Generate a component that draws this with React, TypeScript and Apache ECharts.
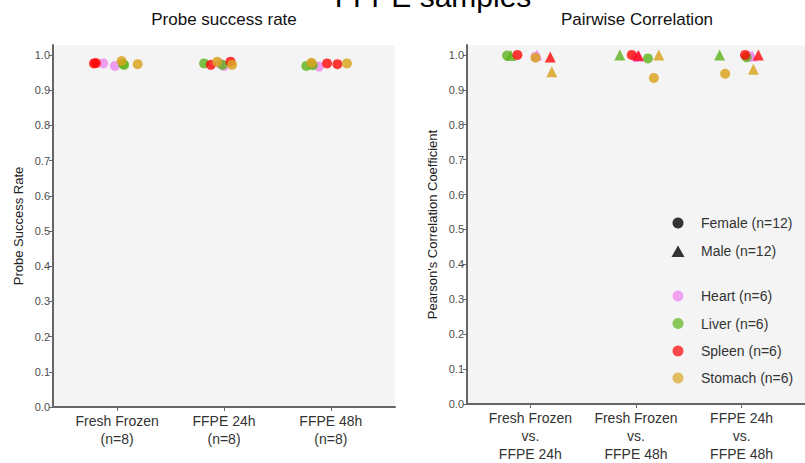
import React, { useEffect, useRef } from "react";
import * as echarts from "echarts";

// ---------- data ----------
const tissues = ["Heart", "Liver", "Spleen", "Stomach"];
const tissueCounts = ["n=6", "n=6", "n=6", "n=6"];
const sexLabels = ["Female (n=12)", "Male (n=12)"];

const probeCategories = ["Fresh Frozen\n(n=8)", "FFPE 24h\n(n=8)", "FFPE 48h\n(n=8)"];
const corrCategories = [
  "Fresh Frozen\nvs.\nFFPE 24h",
  "Fresh Frozen\nvs.\nFFPE 48h",
  "FFPE 24h\nvs.\nFFPE 48h",
];
const yTicks = [0, 0.1, 0.2, 0.3, 0.4, 0.5, 0.6, 0.7, 0.8, 0.9, 1.0];

// probe success rate: [jittered category position, value]
const probeHeart = [[0.87, 0.976], [0.979, 0.969], [1.961, 0.976], [2.001, 0.969], [2.889, 0.967], [2.821, 0.975]];
const probeLiver = [[1.066, 0.972], [1.054, 0.975], [1.814, 0.976], [1.986, 0.972], [2.771, 0.969], [2.83, 0.971]];
const probeSpleen = [[0.783, 0.976], [0.802, 0.977], [1.877, 0.972], [2.061, 0.981], [2.964, 0.976], [3.061, 0.974]];
const probeStomach = [[1.042, 0.983], [1.192, 0.974], [1.936, 0.981], [2.076, 0.972], [2.818, 0.978], [3.15, 0.976]];

// pairwise correlation: [jittered comparison position, r]
const corrHeartF = [[1.049, 0.995], [2.0, 0.993], [3.073, 0.996]];
const corrHeartM = [[1.062, 1.0], [2.028, 0.996], [3.101, 0.997]];
const corrLiverF = [[0.779, 0.998], [2.113, 0.99], [3.047, 0.993]];
const corrLiverM = [[0.814, 0.998], [1.847, 1.0], [2.791, 1.0]];
const corrSpleenF = [[0.877, 1.0], [1.96, 1.0], [3.032, 1.0]];
const corrSpleenM = [[1.188, 0.994], [2.022, 0.998], [3.158, 1.0]];
const corrStomachF = [[1.049, 0.992], [2.169, 0.934], [2.844, 0.946]];
const corrStomachM = [[1.203, 0.952], [2.216, 1.0], [3.111, 0.959]];

// ---------- styles ----------
const tissueColors = ["#EE82EE", "#5DB31A", "#FF0000", "#D9A520"];
const tissueOpacity = [0.75, 0.8, 0.78, 0.85];
const FONT = "Liberation Sans, Arial, Helvetica, sans-serif";
const PANEL_BG = "#F4F4F4";
const AXIS_COLOR = "#666666";

const probeSets = [probeHeart, probeLiver, probeSpleen, probeStomach];
const corrF = [corrHeartF, corrLiverF, corrSpleenF, corrStomachF];
const corrM = [corrHeartM, corrLiverM, corrSpleenM, corrStomachM];

function xAxisFor(gridIndex: number, labels: string[]) {
  return {
    type: "value",
    gridIndex,
    min: 0.4,
    max: 3.6,
    splitLine: { show: false },
    axisLine: { show: true, lineStyle: { color: AXIS_COLOR, width: 2 } },
    axisTick: { show: true, customValues: [1, 2, 3], length: 4, lineStyle: { color: AXIS_COLOR, width: 1 } },
    axisLabel: {
      customValues: [1, 2, 3],
      formatter: (v: number) => labels[Math.round(v) - 1] ?? "",
      color: "#333333",
      fontSize: 14,
      lineHeight: 18,
      margin: 5,
      fontFamily: FONT,
    },
  };
}

function yAxisFor(gridIndex: number, name: string) {
  return {
    type: "value",
    gridIndex,
    min: 0,
    max: 1.0284,
    name,
    nameLocation: "middle",
    nameGap: 28,
    nameTextStyle: { fontSize: 13, color: "#222222", fontFamily: FONT },
    splitLine: { show: false },
    axisLine: { show: true, lineStyle: { color: AXIS_COLOR, width: 2 } },
    axisTick: { show: true, customValues: yTicks, length: 4, lineStyle: { color: AXIS_COLOR, width: 1 } },
    axisLabel: {
      customValues: yTicks,
      formatter: (v: number) => v.toFixed(1),
      color: "#4D4D4D",
      fontSize: 11,
      margin: 3,
      fontFamily: FONT,
    },
  };
}

export default function App() {
  const ref = useRef<HTMLDivElement>(null);

  useEffect(() => {
    if (!ref.current) return;
    const chart = echarts.init(ref.current, undefined, { renderer: "svg" });

    const series: any[] = [];
    tissues.forEach((t, i) => {
      series.push({
        name: t + " probe",
        type: "scatter",
        xAxisIndex: 0,
        yAxisIndex: 0,
        data: probeSets[i],
        symbol: "circle",
        symbolSize: 10,
        itemStyle: { color: tissueColors[i], opacity: tissueOpacity[i] },
        emphasis: { disabled: true },
      });
    });
    tissues.forEach((t, i) => {
      series.push({
        name: t + " female",
        type: "scatter",
        xAxisIndex: 1,
        yAxisIndex: 1,
        data: corrF[i],
        symbol: "circle",
        symbolSize: 10,
        itemStyle: { color: tissueColors[i], opacity: tissueOpacity[i] },
        emphasis: { disabled: true },
      });
      series.push({
        name: t + " male",
        type: "scatter",
        xAxisIndex: 1,
        yAxisIndex: 1,
        data: corrM[i],
        symbol: "triangle",
        symbolSize: 11,
        itemStyle: { color: tissueColors[i], opacity: tissueOpacity[i] },
        emphasis: { disabled: true },
      });
    });

    const legendX = 678;
    const legendTextX = 701;
    const graphics: any[] = [
      {
        type: "text",
        x: 433,
        y: -4,
        style: { text: "FFPE samples", font: `30px ${FONT}`, fill: "#000", textAlign: "center", textVerticalAlign: "middle" },
      },
      {
        type: "text",
        x: 224,
        y: 19,
        style: { text: "Probe success rate", font: `17px ${FONT}`, fill: "#111", textAlign: "center", textVerticalAlign: "middle" },
      },
      {
        type: "text",
        x: 637,
        y: 19,
        style: { text: "Pairwise Correlation", font: `17px ${FONT}`, fill: "#111", textAlign: "center", textVerticalAlign: "middle" },
      },
      { type: "circle", shape: { cx: legendX, cy: 223, r: 5.5 }, style: { fill: "#333333" } },
      {
        type: "polygon",
        shape: { points: [[legendX - 6.5, 257], [legendX + 6.5, 257], [legendX, 245.5]] },
        style: { fill: "#333333" },
      },
      { type: "text", x: legendTextX, y: 223, style: { text: sexLabels[0], font: `14px ${FONT}`, fill: "#333", textVerticalAlign: "middle" } },
      { type: "text", x: legendTextX, y: 251, style: { text: sexLabels[1], font: `14px ${FONT}`, fill: "#333", textVerticalAlign: "middle" } },
    ];
    const legendYs = [296, 323.5, 351, 378];
    tissues.forEach((t, i) => {
      graphics.push({
        type: "circle",
        shape: { cx: legendX, cy: legendYs[i], r: 5.5 },
        style: { fill: tissueColors[i], opacity: 0.7 },
      });
      graphics.push({
        type: "text",
        x: legendTextX,
        y: legendYs[i],
        style: { text: `${t} (${tissueCounts[i]})`, font: `14px ${FONT}`, fill: "#333", textVerticalAlign: "middle" },
      });
    });

    chart.setOption({
      animation: false,
      backgroundColor: "#FFFFFF",
      grid: [
        { left: 53, top: 45, width: 342, height: 362, show: true, backgroundColor: PANEL_BG, borderWidth: 0 },
        { left: 467, top: 45, width: 340, height: 362, show: true, backgroundColor: PANEL_BG, borderWidth: 0 },
      ],
      xAxis: [xAxisFor(0, probeCategories), xAxisFor(1, corrCategories)],
      yAxis: [yAxisFor(0, "Probe Success Rate"), yAxisFor(1, "Pearson's Correlation Coefficient")],
      series,
      graphic: graphics,
    });

    return () => chart.dispose();
  }, []);

  return (
    <div
      ref={ref}
      style={{ position: "absolute", left: 0, top: 0, width: 805, height: 463 }}
    />
  );
}
